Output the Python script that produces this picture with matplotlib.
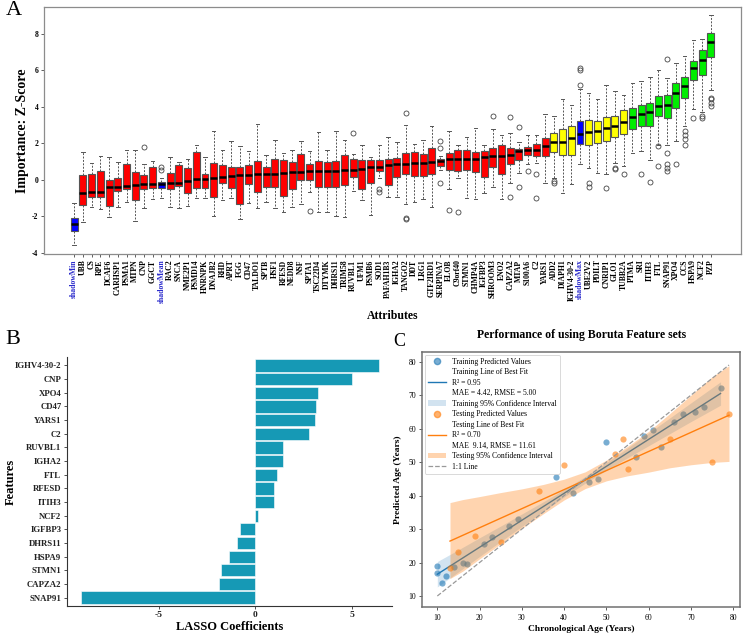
import numpy as np
import matplotlib
matplotlib.use("Agg")
import matplotlib.pyplot as plt
from matplotlib.lines import Line2D
from matplotlib.patches import Patch

plt.rcParams['font.family'] = ['Liberation Serif', 'DejaVu Serif']

# ---------------- Panel A: Boruta importance ----------------
attributes = ['shadowMin', 'UBB', 'CS', 'RPE', 'DCAF6', 'CARHSP1', 'PSMA1', 'MTPN', 'CNP', 'GGCT',
              'shadowMean', 'RAC2', 'SNCA', 'NME2P1', 'PSMD14', 'HNRNPK', 'DNAJB2', 'RHD', 'APRT', 'FGG',
              'CD47', 'TALDO1', 'SPTB', 'HSF1', 'RFESD', 'NEDD8', 'NSF', 'SPTA1', 'TSC22D4', 'DTYMK',
              'DHRS11', 'TRIM58', 'RUVBL1', 'UFM1', 'PSMB6', 'SOD1', 'PAFAH1B3', 'IGHA2', 'TANGO2', 'DDT',
              'LRG1', 'GTF2IRD1', 'SERPINA7', 'ELOB', 'C9orf40', 'STMN1', 'CHMP4A', 'IGFBP3', 'SHROOM3', 'ENO2',
              'CAPZA2', 'MTAP', 'S100A6', 'C2', 'YARS1', 'ADD2', 'DIAPH1', 'IGHV4-30-2', 'shadowMax', 'UBE2V2',
              'PDILT', 'CNRIP1', 'GLO1', 'TUBB2A', 'PTMA', 'SRI', 'ITIH3', 'FTL', 'SNAP91', 'XPO4',
              'CCS', 'HSPA9', 'NCF2', 'PZP']
decision = (['shadow'] + ['rejected'] * 9 + ['shadow'] + ['rejected'] * 44 + ['tentative'] * 3 +
            ['shadow'] + ['tentative'] * 5 + ['confirmed'] * 10)

whislo = [-3.57, -2.29, -1.5, -1.61, -2.01, -1.47, -1.19, -2.25, -1.52, -1.06,
          -1.0, -1.5, -1.56, -1.43, -1.0, -1.0, -1.96, -1.1, -0.97, -2.16,
          -1.28, -1.56, -1.19, -1.56, -1.78, -1.47, -1.32, -0.64, -1.78, -1.78,
          -1.96, -2.01, -0.6, -1.1, -1.92, 0.1, -0.92, -0.92, -1.34, -1.19,
          -1.04, -1.47, 0.55, -0.49, 0.09, -1.01, -1.04, -0.73, -0.37, -1.04,
          -0.18, 0.40, 0.86, 0.92, -0.15, 0.09, -0.70, -0.22, 0.86, 0.64,
          0.40, 0.33, 0.95, 0.77, 1.47, 1.56, 1.10, 1.92, 1.92, 2.14,
          2.93, 3.88, 3.72, 4.91]
q1 = [-2.8, -1.37, -0.95, -0.92, -1.41, -0.6, -0.49, -1.1, -0.51, -0.42,
      -0.46, -0.49, -0.33, -0.73, -0.42, -0.42, -0.92, -0.18, -0.46, -1.32,
      -0.22, -0.66, -0.37, -0.37, -0.88, -0.49, 0.0, 0.0, -0.40, -0.37,
      -0.40, -0.27, 0.16, -0.48, -0.16, 0.46, -0.29, 0.15, 0.33, 0.24,
      0.24, 0.33, 0.77, 0.55, 0.48, 0.55, 0.42, 0.15, 0.73, 0.33,
      0.88, 1.10, 1.34, 1.32, 1.30, 1.52, 1.36, 1.36, 1.94, 1.90,
      2.01, 2.12, 2.34, 2.49, 2.80, 2.93, 2.93, 3.48, 3.39, 3.92,
      4.45, 5.46, 5.71, 6.74]
medians = [-2.42, -0.73, -0.68, -0.68, -0.40, -0.37, -0.33, -0.27, -0.24, -0.22,
           -0.22, -0.19, -0.15, -0.05, 0.05, 0.06, 0.11, 0.16, 0.24, 0.26,
           0.29, 0.31, 0.33, 0.34, 0.40, 0.42, 0.44, 0.46, 0.47, 0.48,
           0.51, 0.52, 0.55, 0.62, 0.68, 0.73, 0.79, 0.86, 0.88, 0.92,
           0.95, 0.99, 1.06, 1.12, 1.13, 1.15, 1.16, 1.23, 1.28, 1.32,
           1.36, 1.59, 1.61, 1.65, 1.83, 2.05, 2.06, 2.27, 2.49, 2.64,
           2.69, 2.82, 2.93, 3.17, 3.44, 3.59, 3.72, 4.03, 4.12, 4.73,
           5.11, 6.12, 6.56, 7.53]
q3 = [-2.1, 0.27, 0.33, 0.51, 0.0, 0.09, 0.88, 0.42, 0.29, 0.73,
      -0.09, 0.38, 0.82, 0.64, 1.52, 0.33, 0.95, 0.82, 0.70, 0.68,
      0.81, 1.06, 0.73, 1.14, 1.10, 0.97, 1.41, 0.86, 1.06, 0.97,
      1.06, 1.34, 1.14, 1.10, 1.10, 1.10, 1.14, 1.17, 1.47, 1.52,
      1.41, 1.74, 1.15, 1.48, 1.65, 1.65, 1.50, 1.59, 1.72, 1.90,
      1.74, 1.70, 1.81, 1.98, 2.31, 2.55, 2.78, 2.95, 3.21, 3.26,
      3.22, 3.42, 3.48, 3.81, 3.92, 4.07, 4.21, 4.58, 4.65, 5.29,
      5.64, 6.52, 7.09, 8.02]
whishi = [-1.28, 1.52, 0.95, 1.28, 1.25, 1.0, 1.65, 1.65, 0.88, 1.06,
          0.1, 1.26, 1.0, 1.15, 1.92, 1.25, 2.66, 1.65, 2.14, 1.87,
          1.56, 3.08, 1.36, 2.18, 1.47, 1.65, 2.1, 1.56, 2.6, 1.65,
          2.69, 2.16, 1.41, 1.89, 1.25, 1.89, 2.34, 2.09, 3.02, 1.94,
          2.18, 2.93, 1.28, 2.66, 1.89, 2.33, 2.82, 1.92, 2.78, 2.47,
          2.56, 2.05, 2.47, 2.47, 3.61, 3.48, 4.43, 4.12, 4.95, 4.73,
          4.40, 5.2, 4.85, 4.63, 5.31, 5.38, 5.62, 6.01, 5.59, 6.41,
          6.78, 7.64, 7.69, 9.03]
outliers = {
    'CNP': [1.78], 'shadowMean': [0.55, 0.68], 'SPTA1': [-1.68], 'RUVBL1': [2.56],
    'SOD1': [-0.5, -0.68], 'TANGO2': [3.63, -2.07, -2.16], 'SERPINA7': [2.14, 1.77, -0.18],
    'ELOB': [-1.65], 'C9orf40': [-1.78], 'SHROOM3': [3.48], 'CAPZA2': [3.42, -0.95],
    'MTAP': [2.88, -0.37], 'S100A6': [0.46], 'C2': [0.31, -0.99], 'ADD2': [-0.05, -0.18],
    'shadowMax': [5.18, 6.01, 6.14], 'UBE2V2': [-0.18, -0.37], 'CNRIP1': [-0.46],
    'GLO1': [0.62, 0.66], 'TUBB2A': [0.33], 'SRI': [0.31], 'ITIH3': [-0.09],
    'FTL': [1.83, 0.77], 'SNAP91': [6.59, 1.47, 0.86, 0.64, 0.51], 'XPO4': [0.86],
    'CCS': [2.66, 2.47, 2.23, 1.89], 'HSPA9': [3.41], 'NCF2': [3.48, 3.41],
    'PZP': [4.49, 4.40, 4.18, 4.03],
}
decision_colors = {'shadow': '#0000FF', 'rejected': '#FF0000', 'tentative': '#FFFF00', 'confirmed': '#00EE00'}

# ---------------- Panel B: LASSO ----------------
features = ['IGHV4-30-2', 'CNP', 'XPO4', 'CD47', 'YARS1', 'C2', 'RUVBL1', 'IGHA2', 'FTL', 'RFESD',
            'ITIH3', 'NCF2', 'IGFBP3', 'DHRS11', 'HSPA9', 'STMN1', 'CAPZA2', 'SNAP91']
lasso_coef = [6.41, 5.02, 3.23, 3.14, 3.10, 2.78, 1.43, 1.40, 1.14, 0.95,
              0.95, 0.14, -0.79, -0.95, -1.36, -1.76, -1.88, -9.03]

# ---------------- Panel C: predicted vs chronological ----------------
train_age = [10, 10, 11, 12, 14, 16, 17, 21, 23, 27, 29, 38, 42, 46, 48, 50, 57, 59, 61, 63, 66, 68, 71, 73, 77]
train_pred = [19, 17, 14, 16, 18.7, 20, 19.5, 25.6, 27.5, 31, 33, 45.6, 40.7, 44, 45, 56, 51.5, 57.7,
              59.5, 54.5, 62, 64.4, 65, 66.4, 72]
test_age = [13, 15, 19, 25, 34, 40, 52, 54, 55, 65, 75, 79]
test_pred = [18.5, 23, 28, 26, 41.5, 49, 52.3, 57, 48, 57, 50, 64.3]
train_fit_x = [10, 77]
train_fit_y = [16.5, 70.5]
test_fit_x = [13, 79]
test_fit_y = [26.4, 64.0]
train_ci_x = [10, 15, 20, 25, 30, 35, 40, 45, 50, 55, 60, 65, 70, 75, 77]
train_ci_lo = [12.7, 17.2, 21.8, 26.3, 30.8, 35.2, 39.6, 43.7, 47.6, 51.3, 54.9, 58.5, 62.1, 65.6, 67.0]
train_ci_hi = [20.3, 23.8, 27.4, 30.9, 34.5, 38.1, 41.8, 45.7, 49.9, 54.2, 58.7, 63.2, 67.7, 72.2, 74.0]
test_ci_x = [13, 16, 20, 25, 30, 35, 40, 45, 50, 55, 60, 65, 70, 75, 79]
test_ci_lo = [15.2, 17.4, 21.1, 25.6, 30.2, 34.5, 38.7, 42.1, 44.4, 45.9, 47.0, 48.3, 49.2, 49.9, 50.2]
test_ci_hi = [37.9, 38.8, 39.7, 40.9, 42.0, 43.3, 44.9, 47.1, 50.6, 54.7, 59.2, 64.5, 70.0, 75.5, 78.8]
identity_x = [10, 79]

W, H = 744, 635
fig = plt.figure(figsize=(W / 100, H / 100), dpi=100)


def box(l, t, r, b):
    return [l / W, 1 - b / H, (r - l) / W, (b - t) / H]


# ---- Panel A ----
axA = fig.add_axes(box(44, 7, 741, 254))
stats = []
for i, name in enumerate(attributes):
    stats.append(dict(label=name, whislo=whislo[i], q1=q1[i], med=medians[i], q3=q3[i],
                      whishi=whishi[i], fliers=outliers.get(name, [])))
pos = np.arange(1, len(attributes) + 1)
bp = axA.bxp(stats, positions=pos, widths=0.8, patch_artist=True, showfliers=True,
             boxprops=dict(edgecolor='#555555', linewidth=0.8),
             medianprops=dict(color='black', linewidth=1.8, solid_capstyle='butt'),
             whiskerprops=dict(color='#555555', linestyle=(0, (2, 1.5)), linewidth=0.7),
             capprops=dict(color='#555555', linewidth=0.7),
             flierprops=dict(marker='o', markerfacecolor='none', markeredgecolor='#444444',
                             markersize=3.6, markeredgewidth=0.6))
for patch, d in zip(bp['boxes'], decision):
    patch.set_facecolor(decision_colors[d])
axA.set_xlim(-2.46, 77.46)
axA.set_ylim(-4.05, 9.45)
axA.set_yticks([-4, -2, 0, 2, 4, 6, 8])
axA.set_yticklabels(['-4', '-2', '0', '2', '4', '6', '8'], fontsize=5.5, fontweight='bold')
axA.set_xticks(pos)
axA.set_xticklabels(attributes, rotation=90, fontsize=5.6, fontweight='bold')
for lab, d in zip(axA.get_xticklabels(), decision):
    lab.set_color('#2b2bcc' if d == 'shadow' else 'black')
axA.tick_params(axis='both', length=2.5, width=0.6, pad=1.5, color='#444444')
for s in axA.spines.values():
    s.set_color('#8c8c8c')
    s.set_linewidth(0.9)
axA.set_ylabel('Importance: Z-Score', fontsize=10, fontweight='bold')
axA.yaxis.set_label_coords(-0.022, 0.5)
axA.set_xlabel('Attributes', fontsize=8.5, fontweight='bold')
axA.xaxis.set_label_coords(0.5, -0.225)
fig.text(6 / W, 1 - 1 / H, 'A', fontsize=16, va='top', ha='left')

# ---- Panel B ----
axB = fig.add_axes(box(67, 357.3, 392, 605.8))
n = len(features)
yb = np.arange(n)[::-1]
axB.barh(yb, lasso_coef, height=0.9, color='#1699B5', edgecolor='white', linewidth=0.4)
axB.set_ylim(-0.6, n - 0.4)
axB.set_xlim(-9.76, 7.07)
axB.set_yticks(yb)
axB.set_yticklabels(features, fontsize=6.3, fontweight='bold', color='#222222')
axB.set_xticks([-5, 0, 5])
axB.set_xticklabels(['-5', '0', '5'], fontsize=6.8, fontweight='bold', color='#222222')
axB.tick_params(axis='both', length=2.5, width=0.6, pad=1.5, color='#333333')
axB.spines['top'].set_visible(False)
axB.spines['right'].set_visible(False)
for s in ['left', 'bottom']:
    axB.spines[s].set_color('#333333')
    axB.spines[s].set_linewidth(0.8)
axB.set_xlabel('LASSO Coefficients', fontsize=9, fontweight='bold')
axB.xaxis.set_label_coords(0.5, -0.062)
axB.set_ylabel('Features', fontsize=9, fontweight='bold')
axB.yaxis.set_label_coords(-0.155, 0.5)
fig.text(5 / W, 1 - 330 / H, 'B', fontsize=16, va='top', ha='left')

# ---- Panel C ----
axC = fig.add_axes(box(422.3, 352.3, 740, 607.3))
blue = '#1f77b4'
orange = '#ff7f0e'
axC.fill_between(train_ci_x, train_ci_lo, train_ci_hi, color=blue, alpha=0.2, linewidth=0, zorder=1)
axC.plot(train_fit_x, train_fit_y, color=blue, linewidth=1.0, zorder=2)
axC.scatter(train_age, train_pred, s=20, color=blue, alpha=0.6, linewidths=0, zorder=2)
axC.fill_between(test_ci_x, test_ci_lo, test_ci_hi, color=orange, alpha=0.33, linewidth=0, zorder=3)
axC.plot(test_fit_x, test_fit_y, color=orange, linewidth=1.0, zorder=4)
axC.scatter(test_age, test_pred, s=20, color=orange, alpha=0.6, linewidths=0, zorder=4)
axC.plot(identity_x, identity_x, color='#999999', linestyle='--', linewidth=0.9, zorder=5)
axC.set_xlim(6.45, 81.6)
axC.set_ylim(6.62, 82.8)
axC.set_xticks(range(10, 81, 10))
axC.set_yticks(range(10, 81, 10))
axC.tick_params(axis='both', labelsize=5.5, length=2.5, width=0.6, pad=2, color='#444444')
for s in axC.spines.values():
    s.set_color('#707070')
    s.set_linewidth(1.1)
axC.set_xlabel('Chronological Age (Years)', fontsize=6.8, fontweight='bold')
axC.xaxis.set_label_coords(0.5, -0.068)
axC.set_ylabel('Predicted Age (Years)', fontsize=6.8, fontweight='bold')
axC.yaxis.set_label_coords(-0.063, 0.5)
axC.set_title('Performance of using Boruta Feature sets', fontsize=8.5, fontweight='bold', pad=10)

blank = Line2D([], [], linestyle='none', marker=None)
handles = [Line2D([], [], linestyle='none', marker='o', color=blue, alpha=0.6, markersize=4.5),
           blank,
           Line2D([], [], color=blue, linewidth=1.0),
           blank,
           Patch(facecolor=blue, alpha=0.2, edgecolor='none'),
           Line2D([], [], linestyle='none', marker='o', color=orange, alpha=0.6, markersize=4.5),
           blank,
           Line2D([], [], color=orange, linewidth=1.0),
           blank,
           Patch(facecolor=orange, alpha=0.33, edgecolor='none'),
           Line2D([], [], color='#999999', linestyle='--', linewidth=0.9)]
labels = ['Training Predicted Values', 'Training Line of Best Fit', 'R\u00b2 = 0.95',
          'MAE = 4.42, RMSE = 5.00', 'Training 95% Confidence Interval',
          'Testing Predicted Values', 'Testing Line of Best Fit', 'R\u00b2 = 0.70',
          'MAE  9.14, RMSE = 11.61', 'Testing 95% Confidence Interval', '1:1 Line']
leg = axC.legend(handles, labels, loc='upper left', fontsize=5.5, labelspacing=0.33,
                 handlelength=2.4, handletextpad=0.8, borderpad=0.4, borderaxespad=0.3,
                 frameon=True, fancybox=True, framealpha=0.85, edgecolor='#cccccc')
leg.get_frame().set_linewidth(0.6)
fig.text(393 / W, 1 - 333 / H, 'C', fontsize=13, va='top', ha='left')

fig.savefig('out.png', dpi=100)
